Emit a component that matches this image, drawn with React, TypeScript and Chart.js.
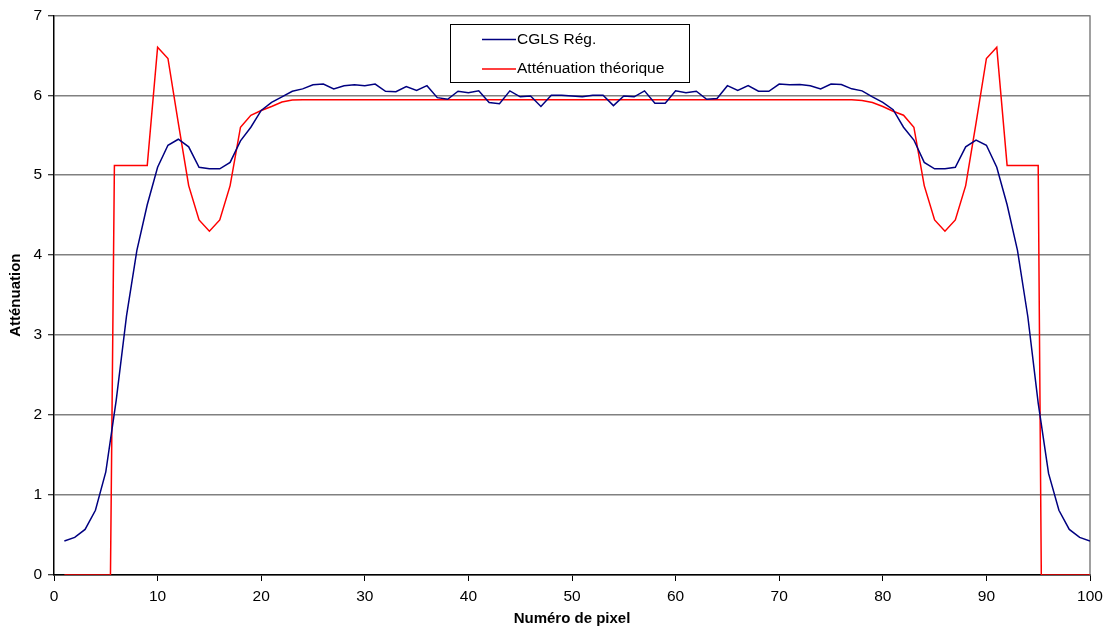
import React, { useEffect, useRef } from "react";
import { Chart, registerables } from "chart.js";

Chart.register(...registerables);

// ---- Data ----
const pixelNumbers = [
  1, 2, 3, 4, 5, 6, 7, 8, 9, 10, 11, 12, 13, 14, 15, 16, 17, 18, 19, 20,
  21, 22, 23, 24, 25, 26, 27, 28, 29, 30, 31, 32, 33, 34, 35, 36, 37, 38, 39, 40,
  41, 42, 43, 44, 45, 46, 47, 48, 49, 50, 51, 52, 53, 54, 55, 56, 57, 58, 59, 60,
  61, 62, 63, 64, 65, 66, 67, 68, 69, 70, 71, 72, 73, 74, 75, 76, 77, 78, 79, 80,
  81, 82, 83, 84, 85, 86, 87, 88, 89, 90, 91, 92, 93, 94, 95, 96, 97, 98, 99, 100,
];

const cglsValues = [
  0.425, 0.47, 0.57, 0.81, 1.29, 2.18, 3.24, 4.06, 4.63, 5.1,
  5.375, 5.45, 5.355, 5.1, 5.08, 5.08, 5.16, 5.43, 5.6, 5.81,
  5.91, 5.98, 6.05, 6.08, 6.13, 6.14, 6.08, 6.12, 6.13, 6.12,
  6.14, 6.05, 6.045, 6.11, 6.06, 6.12, 5.97, 5.95, 6.05, 6.03,
  6.055, 5.91, 5.895, 6.055, 5.98, 5.99, 5.86, 6.0, 6.0, 5.99,
  5.98, 6.0, 6.0, 5.87, 5.99, 5.98, 6.055, 5.9, 5.9, 6.055,
  6.03, 6.05, 5.95, 5.96, 6.12, 6.06, 6.12, 6.05, 6.05, 6.14,
  6.13, 6.135, 6.12, 6.08, 6.14, 6.135, 6.08, 6.055, 5.98, 5.91,
  5.82, 5.6, 5.44, 5.16, 5.08, 5.08, 5.1, 5.355, 5.44, 5.375,
  5.1, 4.63, 4.06, 3.23, 2.15, 1.27, 0.81, 0.57, 0.47, 0.425,
];

const theoryX = [
  1, 5.45, 5.83, 9, 10, 11, 12, 13, 14, 15, 16, 17, 18, 19, 20, 21, 22, 23, 24,
  77, 78, 79, 80, 81, 82, 83, 84, 85, 86, 87, 88, 89, 90, 91, 92, 95, 95.3, 100,
];
const theoryY = [
  0, 0, 5.12, 5.12, 6.6, 6.46, 5.65, 4.87, 4.44, 4.3, 4.44, 4.87, 5.6, 5.75, 5.81, 5.86, 5.915, 5.94, 5.945,
  5.945, 5.935, 5.91, 5.86, 5.8, 5.75, 5.6, 4.87, 4.44, 4.3, 4.44, 4.87, 5.65, 6.46, 6.6, 5.12, 5.12, 0, 0,
];

const seriesLabels = ["CGLS Rég.", "Atténuation théorique"];
const seriesColors = ["#000080", "#FF0000"];
const xTitle = "Numéro de pixel";
const yTitle = "Atténuation";

const FONT = "'Liberation Sans', Arial, sans-serif";

const chartDecor = {
  id: "chartDecor",
  beforeDatasetsDraw(chart: any) {
    const { ctx, chartArea: a } = chart;
    ctx.save();
    ctx.strokeStyle = "#808080";
    ctx.lineWidth = 1.5;
    ctx.beginPath();
    ctx.moveTo(a.right, a.top);
    ctx.lineTo(a.right, a.bottom);
    ctx.stroke();
    ctx.restore();
  },
  afterDraw(chart: any) {
    const { ctx } = chart;
    const bx = 450.5, by = 24.5, bw = 239, bh = 58;
    ctx.save();
    ctx.fillStyle = "#FFFFFF";
    ctx.fillRect(bx, by, bw, bh);
    ctx.strokeStyle = "#000000";
    ctx.lineWidth = 1;
    ctx.strokeRect(bx, by, bw, bh);
    const rows = [39.5, 69];
    chart.data.datasets.forEach((ds: any, i: number) => {
      const y = rows[i];
      ctx.strokeStyle = ds.borderColor;
      ctx.lineWidth = 1.5;
      ctx.beginPath();
      ctx.moveTo(482, y);
      ctx.lineTo(516, y);
      ctx.stroke();
      ctx.fillStyle = "#000000";
      ctx.font = `15.5px ${FONT}`;
      ctx.textBaseline = "middle";
      ctx.textAlign = "left";
      ctx.fillText(ds.label, 517, y);
    });
    ctx.restore();
  },
};

export default function App() {
  const canvasRef = useRef<HTMLCanvasElement | null>(null);

  useEffect(() => {
    document.body.style.margin = "0";
    const canvas = canvasRef.current;
    if (!canvas) return;
    const cglsData = pixelNumbers.map((x, i) => ({ x, y: cglsValues[i] }));
    const theoryData = theoryX.map((x, i) => ({ x, y: theoryY[i] }));

    const chart = new Chart(canvas, {
      type: "line",
      data: {
        datasets: [
          {
            label: seriesLabels[0],
            data: cglsData,
            borderColor: seriesColors[0],
            backgroundColor: seriesColors[0],
            borderWidth: 1.5,
            pointRadius: 0,
            tension: 0,
            fill: false,
          },
          {
            label: seriesLabels[1],
            data: theoryData,
            borderColor: seriesColors[1],
            backgroundColor: seriesColors[1],
            borderWidth: 1.5,
            pointRadius: 0,
            tension: 0,
            fill: false,
          },
        ],
      },
      plugins: [chartDecor],
      options: {
        animation: false,
        responsive: false,
        devicePixelRatio: 1,
        layout: { padding: { top: 15, right: 19, left: 0, bottom: 0 } },
        plugins: {
          legend: { display: false },
          tooltip: { enabled: false },
        },
        scales: {
          x: {
            type: "linear",
            min: 0,
            max: 100,
            afterFit: (s: any) => {
              s.height = 56;
            },
            ticks: {
              stepSize: 10,
              color: "#000",
              font: { family: FONT, size: 15.5 },
              padding: 6,
              maxRotation: 0,
            },
            grid: {
              drawOnChartArea: false,
              drawTicks: true,
              tickLength: 6,
              tickColor: "#000",
              tickWidth: 1,
            },
            border: { color: "#000", width: 1.5 },
            title: {
              display: true,
              text: xTitle,
              color: "#000",
              font: { family: FONT, size: 15, weight: "bold" },
              padding: { top: 0, bottom: 3 },
            },
          },
          y: {
            min: 0,
            max: 7,
            afterFit: (s: any) => {
              s.width = 54;
            },
            ticks: {
              stepSize: 1,
              color: "#000",
              font: { family: FONT, size: 15.5 },
              padding: 6,
            },
            grid: {
              color: "#808080",
              lineWidth: 1.5,
              drawTicks: true,
              tickLength: 6,
              tickColor: "#000",
              tickWidth: 1,
            },
            border: { color: "#000", width: 1.5 },
            title: {
              display: true,
              text: yTitle,
              color: "#000",
              font: { family: FONT, size: 15, weight: "bold" },
              padding: { top: 7, bottom: 0 },
            },
          },
        },
      },
    } as any);

    return () => {
      chart.destroy();
    };
  }, []);

  return (
    <div style={{ position: "absolute", left: 0, top: 0, width: 1109, height: 631 }}>
      <canvas ref={canvasRef} width={1109} height={631} />
    </div>
  );
}
